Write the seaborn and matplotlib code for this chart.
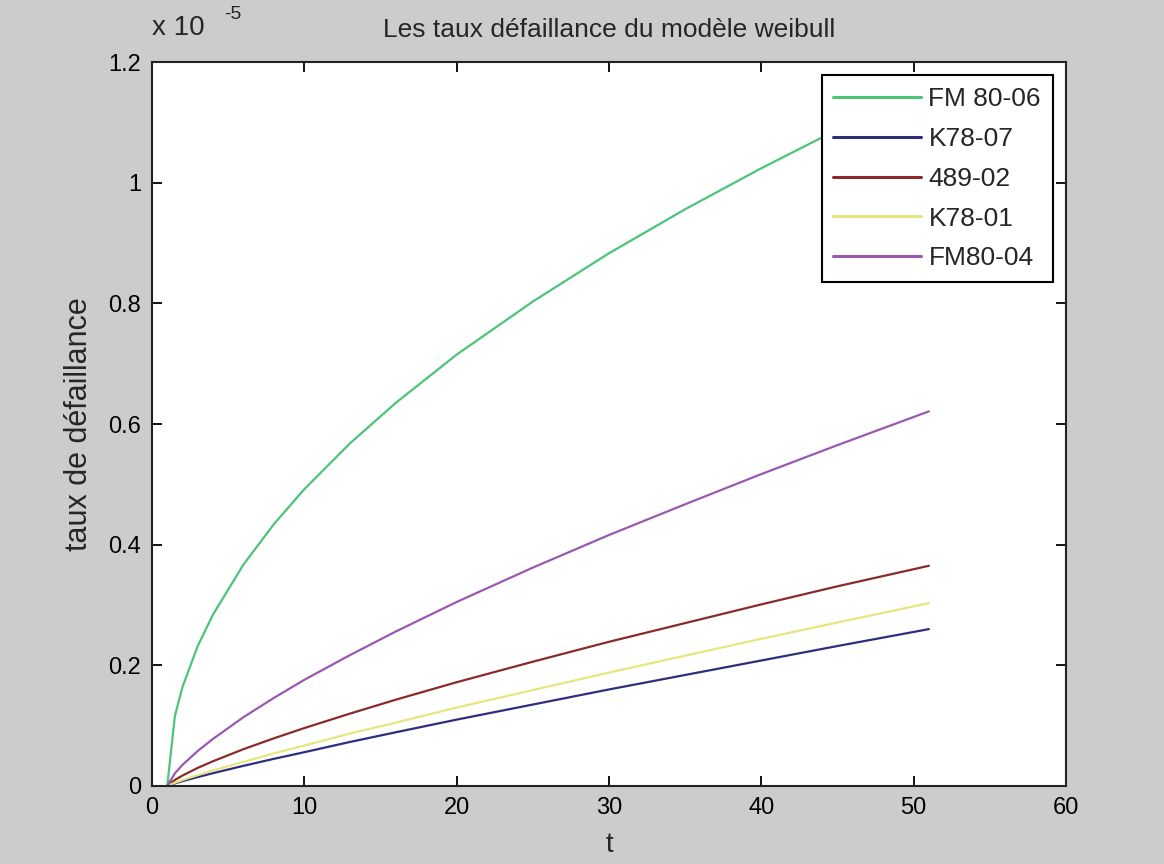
import numpy as np
import pandas as pd
import matplotlib
matplotlib.use("Agg")
import matplotlib.pyplot as plt
import seaborn as sns

# Time axis (same for every series)
t = [1, 1.5, 2, 3, 4, 6, 8, 10, 13, 16, 20, 25, 30, 35, 40, 45, 51]

# Failure rates, in units of 1e-5
fm80_06 = [0, 0.116, 0.164, 0.232, 0.284, 0.367, 0.434, 0.492, 0.568, 0.635,
           0.715, 0.803, 0.883, 0.956, 1.024, 1.088, 1.160]
k78_07 = [0, 0.0043, 0.0080, 0.0148, 0.0212, 0.0334, 0.045, 0.056, 0.073, 0.089,
          0.110, 0.135, 0.160, 0.184, 0.208, 0.232, 0.260]
s489_02 = [0, 0.010, 0.0173, 0.030, 0.041, 0.061, 0.079, 0.096, 0.120, 0.143,
           0.172, 0.206, 0.239, 0.270, 0.301, 0.331, 0.365]
k78_01 = [0, 0.0053, 0.0098, 0.018, 0.0256, 0.040, 0.054, 0.067, 0.087, 0.105,
          0.130, 0.159, 0.188, 0.216, 0.244, 0.271, 0.303]
fm80_04 = [0, 0.021, 0.035, 0.058, 0.078, 0.114, 0.146, 0.176, 0.217, 0.256,
           0.305, 0.362, 0.416, 0.467, 0.517, 0.565, 0.621]

labels = ["FM 80-06", "K78-07", "489-02", "K78-01", "FM80-04"]
series = [fm80_06, k78_07, s489_02, k78_01, fm80_04]
colors = ["#4cc47a", "#2e2e7e", "#8a2b2b", "#e6e67e", "#9a58b0"]

x_ticks = [0, 10, 20, 30, 40, 50, 60]
y_ticks = [0, 0.2, 0.4, 0.6, 0.8, 1.0, 1.2]
scale_exp = -5

sns.set_style("ticks")
plt.rcParams["font.family"] = ["Liberation Sans", "DejaVu Sans"]

fig = plt.figure(figsize=(11.64, 8.64), dpi=100, facecolor="#cccccc")
ax = fig.add_axes([0.1306, 0.0903, 0.7852, 0.8379])
ax.set_facecolor("white")

df = pd.DataFrame({"t": np.tile(t, len(series)),
                   "rate": np.concatenate(series),
                   "serie": np.repeat(labels, len(t))})
sns.lineplot(data=df, x="t", y="rate", hue="serie", hue_order=labels,
             palette=colors, linewidth=1.6, ax=ax, sort=False)

ax.set_xlim(0, 60)
ax.set_ylim(0, 1.2)
ax.set_xticks(x_ticks)
ax.set_yticks(y_ticks)
ax.set_xticklabels([f"{v:g}" for v in x_ticks])
ax.set_yticklabels([f"{v:g}" for v in y_ticks])
ax.tick_params(direction="in", length=7, width=1.3, top=True, right=True,
               labelsize=17, pad=8, colors="black")
for sp in ax.spines.values():
    sp.set_visible(True)
    sp.set_linewidth(1.5)
    sp.set_color("#222222")

ax.set_xlabel("t", fontsize=20, labelpad=9)
ax.set_ylabel("taux de défaillance", fontsize=22, labelpad=10)
ax.set_title("Les taux défaillance du modèle weibull", fontsize=19, pad=18)

# Exponent of the y axis, written above its top end
ax.annotate("x 10", xy=(0, 1), xycoords="axes fraction", xytext=(0, 15),
            textcoords="offset points", fontsize=20, ha="left", va="bottom")
ax.annotate(f"{scale_exp}", xy=(0, 1), xycoords="axes fraction",
            xytext=(52, 28), textcoords="offset points", fontsize=14,
            ha="left", va="bottom")

leg = ax.legend(loc="upper right", fontsize=19, frameon=True, fancybox=False,
                framealpha=1, edgecolor="black", borderaxespad=0.5,
                handlelength=3.3, handletextpad=0.3, labelspacing=0.6,
                borderpad=0.45)
leg.get_frame().set_linewidth(1.5)
for line in leg.get_lines():
    line.set_linewidth(2.2)

fig.savefig("out.png", dpi=100, facecolor=fig.get_facecolor())
